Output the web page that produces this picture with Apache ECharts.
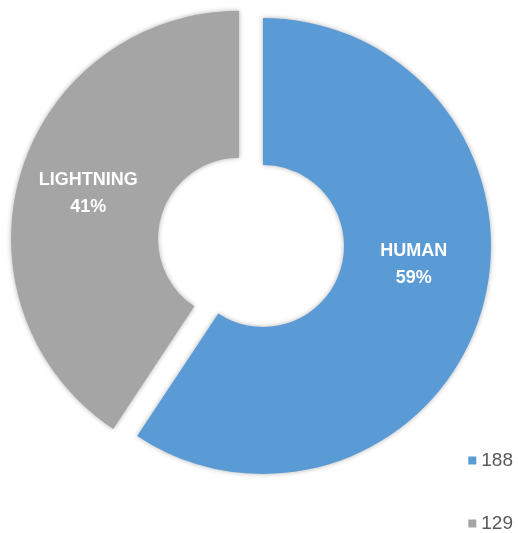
<!DOCTYPE html>
<html>
<head>
<meta charset="utf-8">
<script src="https://cdn.jsdelivr.net/npm/echarts@6/dist/echarts.min.js"></script>
<style>
  html, body { margin: 0; padding: 0; background: #fff; }
  #chart { width: 518px; height: 533px; }
</style>
</head>
<body>
<div id="chart"></div>
<script>
// fire causes
const categories = ['HUMAN', 'LIGHTNING'];
const counts = [188, 129];
const colors = ['#5B9BD5', '#A5A5A5'];
const legendTops = [446, 509];

const chart = echarts.init(document.getElementById('chart'));

let option = {
  color: colors,
  animation: false,
  // one legend per entry so they stack like the original
  legend: counts.map((v, i) => ({
    right: 0,
    top: legendTops[i],
    itemWidth: 8,
    itemHeight: 8,
    itemGap: 0,
    icon: 'rect',
    data: [String(v)],
    textStyle: {
      color: '#595959',
      fontSize: 19,
      fontFamily: 'Liberation Sans'
    }
  })),
  series: [
    {
      type: 'pie',
      center: [263, 246],
      radius: [81, 228],
      startAngle: 90,
      clockwise: true,
      selectedMode: 'single',
      selectedOffset: 25,
      emphasis: {scale: false},
      itemStyle: {
        shadowBlur: 5,
        shadowColor: 'rgba(0,0,0,0.3)'
      },
      label: {
        show: true,
        position: 'inside',
        color: '#fff',
        fontSize: 18,
        fontWeight: 'bold',
        lineHeight: 27,
        fontFamily: 'Liberation Sans',
        formatter: (p) => {
          let txt = categories[p.dataIndex] + '\n' + Math.round(p.percent) + '%';
          // nudge the big slice's label upward like the original
          return p.dataIndex === 0 ? txt + '\n \n ' : txt;
        }
      },
      labelLine: {show: false},
      data: counts.map((v, i) => ({
        name: String(v),
        value: v,
        selected: i === 1
      }))
    }
  ]
};

chart.setOption(option);
</script>
</body>
</html>
